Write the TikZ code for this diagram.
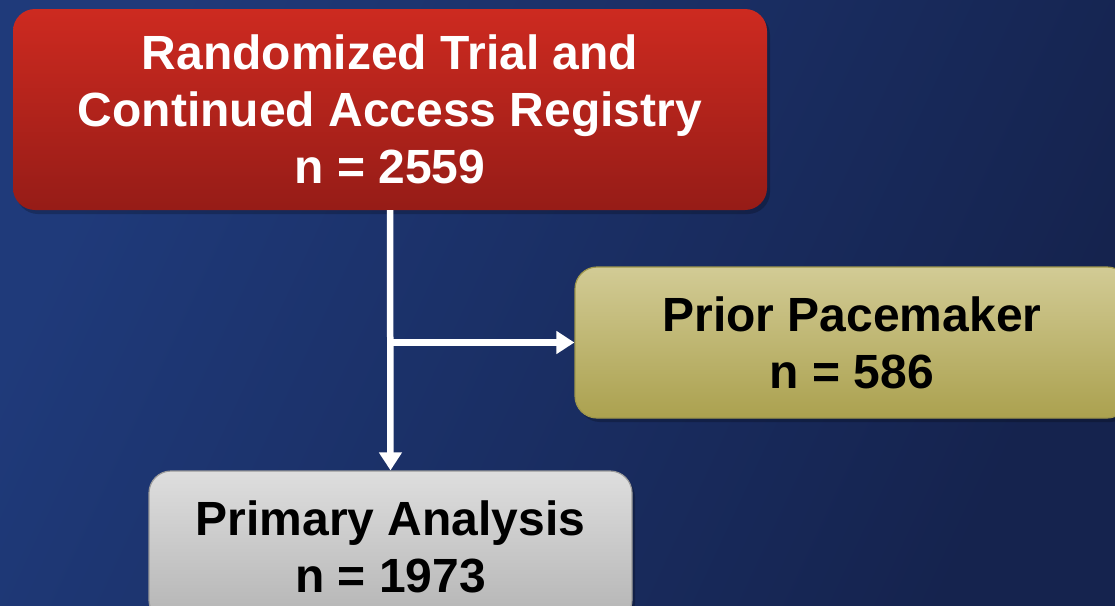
\documentclass[tikz,border=0pt]{standalone}
\usepackage{fontspec}
\setmainfont{Liberation Sans}
\usetikzlibrary{arrows.meta,shadows}
\definecolor{bgL}{HTML}{1F3A7A}
\definecolor{bgR}{HTML}{15234E}
\definecolor{redT}{HTML}{CD2A20}
\definecolor{redB}{HTML}{961C17}
\definecolor{olvT}{HTML}{D2CB95}
\definecolor{olvB}{HTML}{ABA14F}
\definecolor{olvD}{HTML}{9E964C}
\definecolor{gryT}{HTML}{DEDEDE}
\definecolor{gryB}{HTML}{B4B4B4}
\definecolor{gryD}{HTML}{9A9A9A}
\begin{document}
\begin{tikzpicture}[x=1pt,y=-1pt,
  box/.style={rounded corners=22pt, align=center, inner sep=0pt,
    font=\fontsize{48}{57}\selectfont\bfseries,
    drop shadow={shadow xshift=3pt,shadow yshift=-4pt,opacity=0.22,fill=black}},
  flow/.style={draw=white, line width=6.5pt, -{Triangle[width=22pt,length=18pt]}}]
\useasboundingbox (0,0) rectangle (1115,605);
\clip (0,0) rectangle (1115,605);
\shade[top color=bgL, bottom color=bgR, shading angle=65] (0,0) rectangle (1115,605);
\node[box, top color=redT, bottom color=redB, text=white,
  minimum width=754pt, minimum height=201pt] (rct) at (390,109.5)
  {Randomized Trial and\\Continued Access Registry\\n = 2559};
\node[box, top color=olvT, bottom color=olvB, draw=olvD, line width=1.2pt, text=black,
  minimum width=554pt, minimum height=151pt] (prior) at (852,342.5)
  {Prior Pacemaker\\n = 586};
\node[box, top color=gryT, bottom color=gryB, draw=gryD, line width=1.2pt, text=black,
  minimum width=483pt, minimum height=151pt] (prim) at (390.5,546.5)
  {Primary Analysis\\n = 1973};
\draw[flow] (rct.south) -- (prim.north);
\draw[flow] (rct.south |- prior.west) -- (prior.west);
\end{tikzpicture}
\end{document}
